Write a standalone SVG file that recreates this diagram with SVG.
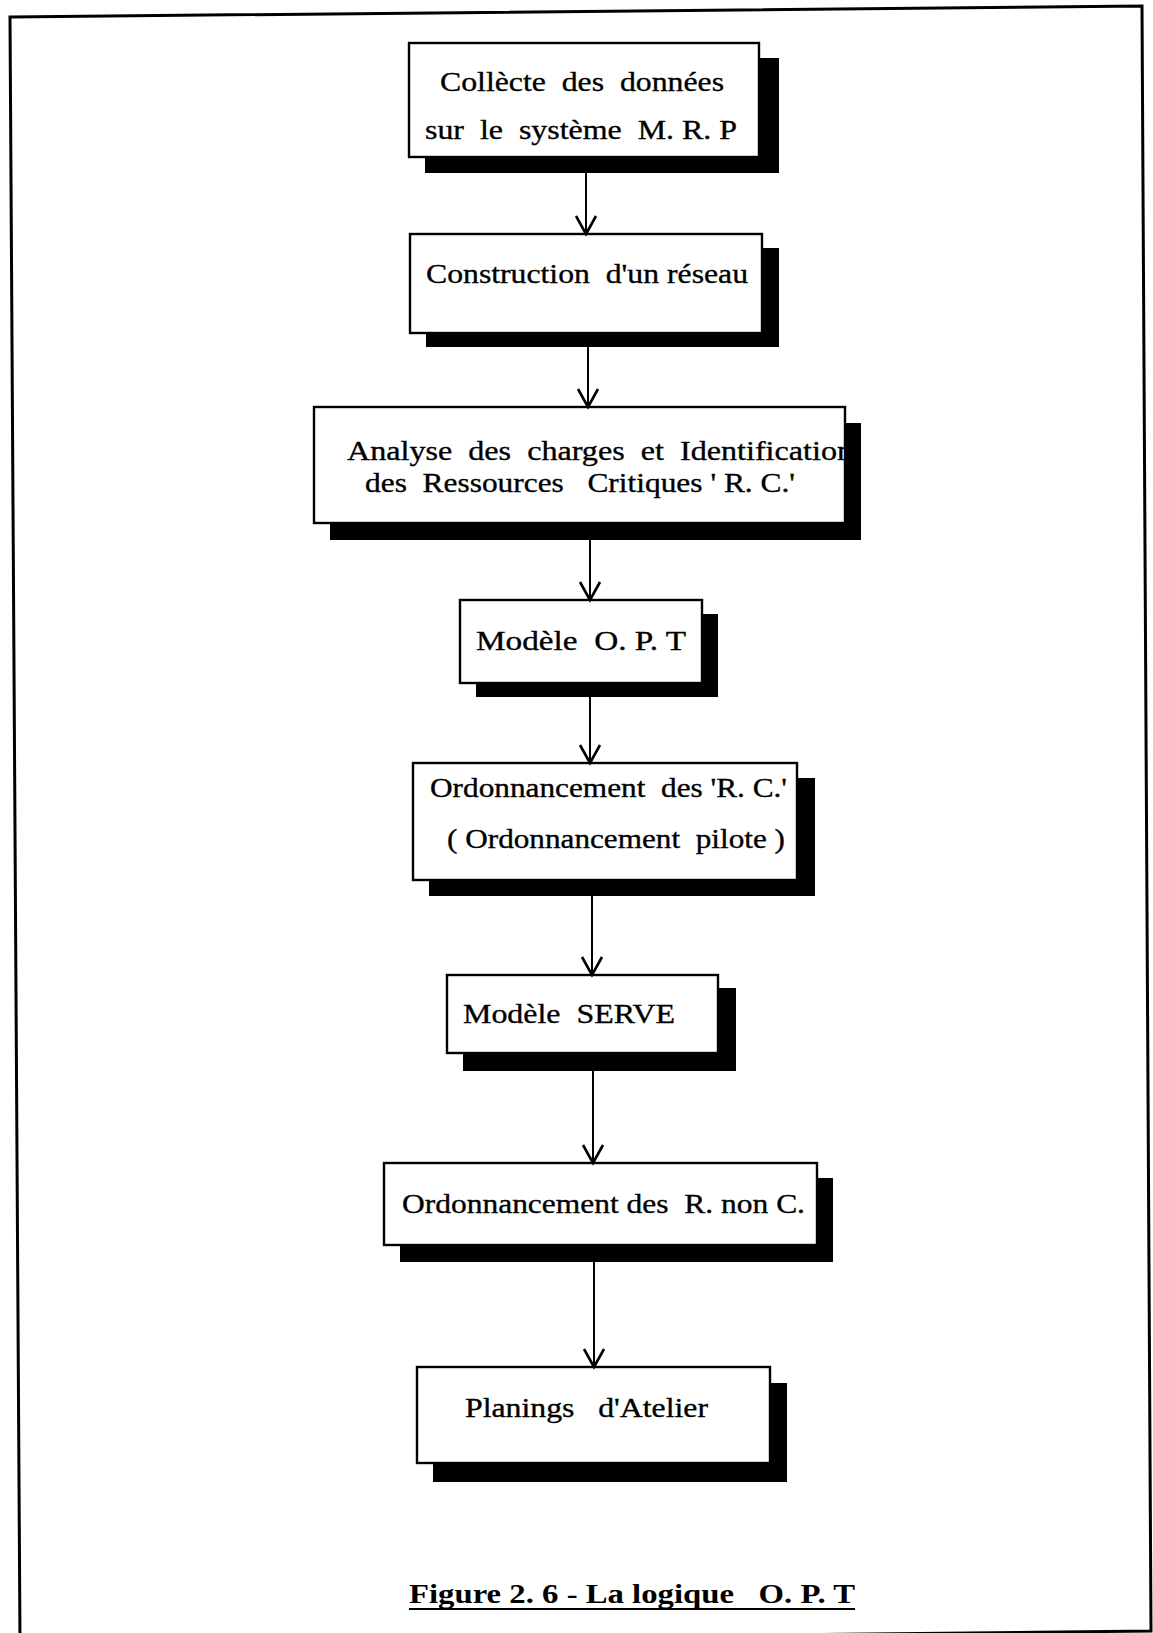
<svg xmlns="http://www.w3.org/2000/svg" width="1153" height="1633" viewBox="0 0 1153 1633">
<defs>
<style>
.box{fill:#fff;stroke:#000;stroke-width:2.4}
.sh{fill:#000}
.t{font-family:"Liberation Serif","Times New Roman",serif;font-size:28px;fill:#000;stroke:#000;stroke-width:0.35;white-space:pre}
.cap{font-family:"Liberation Serif","Times New Roman",serif;font-size:28px;font-weight:bold;fill:#000;white-space:pre}
.ln{stroke:#000;stroke-width:2;fill:none}
</style>
<marker id="ah" markerWidth="24" markerHeight="24" refX="20" refY="12" orient="auto" markerUnits="userSpaceOnUse" viewBox="0 0 24 24">
<path d="M2,2 L20,12 L2,22" fill="none" stroke="#000" stroke-width="2.6"/>
</marker>
</defs>
<rect width="1153" height="1633" fill="#fff"/>
<polygon points="10,17 1142,6 1151,1631 20,1643" fill="none" stroke="#000" stroke-width="3"/>

<g id="n1">
<rect class="sh" x="425" y="58" width="354" height="115"/>
<rect class="box" x="409" y="43" width="350" height="114"/>
<text class="t" x="440" y="91" textLength="284" lengthAdjust="spacingAndGlyphs">Collècte  des  données</text>
<text class="t" x="425" y="139" textLength="312" lengthAdjust="spacingAndGlyphs">sur  le  système  M. R. P</text>
</g>
<g id="n2">
<rect class="sh" x="426" y="248" width="353" height="99"/>
<rect class="box" x="410" y="234" width="352" height="99"/>
<text class="t" x="426" y="283" textLength="322" lengthAdjust="spacingAndGlyphs">Construction  d'un réseau</text>
</g>
<g id="n3">
<rect class="sh" x="330" y="423" width="531" height="117"/>
<rect class="box" x="314" y="407" width="531" height="116"/>
<text class="t" x="347" y="460" textLength="506" lengthAdjust="spacingAndGlyphs">Analyse  des  charges  et  Identification</text>
<text class="t" x="365" y="492" textLength="430" lengthAdjust="spacingAndGlyphs">des  Ressources   Critiques ' R. C.'</text>
</g>
<g id="n4">
<rect class="sh" x="476" y="614" width="242" height="83"/>
<rect class="box" x="460" y="600" width="242" height="83"/>
<text class="t" x="476" y="650" textLength="210" lengthAdjust="spacingAndGlyphs">Modèle  O. P. T</text>
</g>
<g id="n5">
<rect class="sh" x="429" y="778" width="386" height="118"/>
<rect class="box" x="413" y="763" width="384" height="117"/>
<text class="t" x="430" y="797" textLength="357" lengthAdjust="spacingAndGlyphs">Ordonnancement  des 'R. C.'</text>
<text class="t" x="447" y="848" textLength="338" lengthAdjust="spacingAndGlyphs">( Ordonnancement  pilote )</text>
</g>
<g id="n6">
<rect class="sh" x="463" y="988" width="273" height="83"/>
<rect class="box" x="447" y="975" width="271" height="78"/>
<text class="t" x="463" y="1023" textLength="212" lengthAdjust="spacingAndGlyphs">Modèle  SERVE</text>
</g>
<g id="n7">
<rect class="sh" x="400" y="1178" width="433" height="84"/>
<rect class="box" x="384" y="1163" width="433" height="82"/>
<text class="t" x="402" y="1213" textLength="403" lengthAdjust="spacingAndGlyphs">Ordonnancement des  R. non C.</text>
</g>
<g id="n8">
<rect class="sh" x="433" y="1383" width="354" height="99"/>
<rect class="box" x="417" y="1367" width="353" height="96"/>
<text class="t" x="465" y="1417" textLength="243" lengthAdjust="spacingAndGlyphs">Planings   d'Atelier</text>
</g>

<g id="connectors">
<line class="ln" x1="586" y1="157" x2="586" y2="234" marker-end="url(#ah)"/>
<line class="ln" x1="588" y1="333" x2="588" y2="407" marker-end="url(#ah)"/>
<line class="ln" x1="590" y1="523" x2="590" y2="600" marker-end="url(#ah)"/>
<line class="ln" x1="590" y1="683" x2="590" y2="763" marker-end="url(#ah)"/>
<line class="ln" x1="592" y1="880" x2="592" y2="975" marker-end="url(#ah)"/>
<line class="ln" x1="593" y1="1053" x2="593" y2="1163" marker-end="url(#ah)"/>
<line class="ln" x1="594" y1="1245" x2="594" y2="1367" marker-end="url(#ah)"/>
</g>

<g id="caption">
<text class="cap" x="409" y="1603" textLength="446" lengthAdjust="spacingAndGlyphs">Figure 2. 6 - La logique   O. P. T</text>
<line x1="409" y1="1609" x2="855" y2="1609" stroke="#000" stroke-width="2.2"/>
</g>
</svg>
